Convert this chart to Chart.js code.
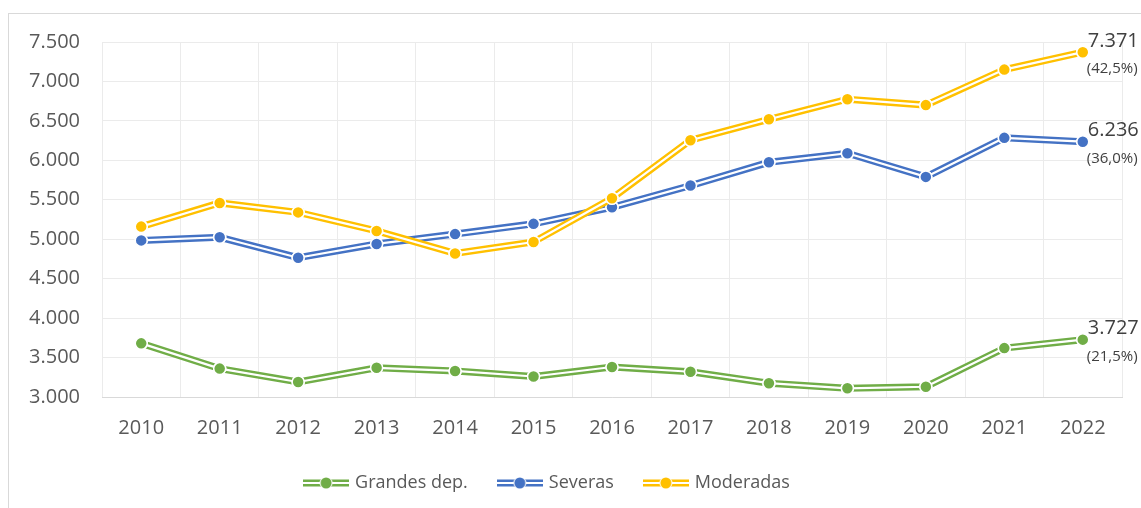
<!DOCTYPE html>
<html>
<head>
<meta charset="utf-8">
<script src="https://cdn.jsdelivr.net/npm/chart.js@4.4.0/dist/chart.umd.min.js"></script>
<style>
  html, body { margin: 0; padding: 0; background: #fff; overflow: hidden; }
  #wrap { position: relative; width: 1141px; height: 508px; }
</style>
</head>
<body>
<div id="wrap"><canvas id="chart" width="1141" height="508"></canvas></div>
<script>
const years = ['2010', '2011', '2012', '2013', '2014', '2015', '2016', '2017', '2018', '2019', '2020', '2021', '2022'];
const grandes = [3680, 3360, 3190, 3370, 3330, 3260, 3380, 3320, 3175, 3110, 3130, 3620, 3727];
const severas = [4985, 5025, 4765, 4940, 5065, 5195, 5405, 5680, 5975, 6090, 5790, 6285, 6236];
const moderadas = [5160, 5460, 5340, 5105, 4820, 4965, 5520, 6255, 6520, 6775, 6700, 7150, 7371];
const seriesNames = ['Grandes dep.', 'Severas', 'Moderadas'];
const shares = ['(21,5%)', '(36,0%)', '(42,5%)'];
const colors = ['#70AD47', '#4472C4', '#FFC000'];

const FONT = "'Open Sans', sans-serif";
const TEXT = '#595959';

function fmt(v) {
    return String(v).replace(/\B(?=(\d{3})+(?!\d))/g, '.');
}

// legend symbol: double line with a dot in the middle
function legendIcon(color) {
    const c = document.createElement('canvas');
    c.width = 46;
    c.height = 14;
    const g = c.getContext('2d');
    g.fillStyle = color;
    g.fillRect(0, 3.5, 46, 7);
    g.fillStyle = '#fff';
    g.fillRect(0, 6, 46, 2);
    g.beginPath();
    g.arc(23, 7, 6.5, 0, Math.PI * 2);
    g.fill();
    g.fillStyle = color;
    g.beginPath();
    g.arc(23, 7, 5.5, 0, Math.PI * 2);
    g.fill();
    return c;
}

const frame = {
    id: 'frame',
    beforeDraw(chart) {
        const ctx = chart.ctx;
        ctx.save();
        ctx.strokeStyle = '#d9d9d9';
        ctx.lineWidth = 1;
        ctx.strokeRect(8.5, 13.5, 2000, 2000);
        ctx.restore();
    }
};

// give the plot more room without moving the legend row
const LEGEND_SHRINK = 17;
const LEGEND_SHIFT_X = 13;
const legendSpace = {
    id: 'legendSpace',
    afterInit(chart) {
        const lg = chart.legend;
        const fit = lg.fit;
        lg.fit = function () {
            fit.call(this);
            this.height -= LEGEND_SHRINK;
        };
    },
    afterLayout(chart) {
        const lg = chart.legend;
        lg.top -= LEGEND_SHRINK;
        lg.left -= LEGEND_SHIFT_X;
        lg.right -= LEGEND_SHIFT_X;
    }
};

// white stripe in the middle of each line -> compound "double" line
const doubleLine = {
    id: 'doubleLine',
    afterDatasetDraw(chart, args) {
        const ctx = chart.ctx;
        const pts = args.meta.data;
        ctx.save();
        ctx.strokeStyle = '#fff';
        ctx.lineWidth = 2.2;
        ctx.lineJoin = 'round';
        ctx.beginPath();
        pts.forEach((p, i) => i ? ctx.lineTo(p.x, p.y) : ctx.moveTo(p.x, p.y));
        ctx.stroke();
        ctx.restore();
        pts.forEach(p => p.draw(ctx, chart.chartArea));
    }
};

const endLabels = {
    id: 'endLabels',
    afterDatasetsDraw(chart) {
        const ctx = chart.ctx;
        ctx.save();
        ctx.fillStyle = '#404040';
        ctx.textAlign = 'left';
        ctx.textBaseline = 'middle';
        chart.data.datasets.forEach((ds, i) => {
            const meta = chart.getDatasetMeta(i);
            const p = meta.data[meta.data.length - 1];
            ctx.font = '20px ' + FONT;
            ctx.fillText(fmt(ds.data[ds.data.length - 1]), p.x + 5, p.y - 11);
            ctx.font = '15px ' + FONT;
            ctx.fillText(shares[i], p.x + 4, p.y + 17);
        });
        ctx.restore();
    }
};

const datasets = [grandes, severas, moderadas].map((d, i) => ({
    label: seriesNames[i],
    data: d,
    borderColor: colors[i],
    backgroundColor: colors[i],
    borderWidth: 7,
    pointRadius: 6,
    pointHoverRadius: 6,
    pointBackgroundColor: colors[i],
    pointBorderColor: '#fff',
    pointBorderWidth: 1.5,
    tension: 0,
    order: 3 - i
}));

new Chart(document.getElementById('chart'), {
    type: 'line',
    data: { labels: years, datasets: datasets },
    options: {
        responsive: false,
        animation: false,
        layout: { padding: { left: 0, right: 19, top: 42, bottom: 6 } },
        plugins: {
            tooltip: { enabled: false },
            legend: {
                position: 'bottom',
                labels: {
                    usePointStyle: true,
                    pointStyleWidth: 40,
                    padding: 32,
                    color: TEXT,
                    font: { family: FONT, size: 18 },
                    generateLabels: () => seriesNames.map((n, i) => ({
                        text: n,
                        pointStyle: legendIcon(colors[i]),
                        fillStyle: colors[i],
                        strokeStyle: colors[i],
                        lineWidth: 0,
                        fontColor: TEXT,
                        datasetIndex: i,
                        hidden: false
                    }))
                }
            }
        },
        scales: {
            x: {
                offset: true,
                grid: { offset: true, color: '#ebebeb', drawTicks: false },
                border: { color: '#d9d9d9' },
                ticks: { color: TEXT, padding: 19, font: { family: FONT, size: 20 }, maxRotation: 0 }
            },
            y: {
                min: 3000,
                max: 7500,
                afterFit: s => { s.width = 102; },
                grid: { color: '#ebebeb', drawTicks: false },
                border: { display: false },
                ticks: {
                    stepSize: 500,
                    color: TEXT,
                    padding: 22,
                    font: { family: FONT, size: 20 },
                    callback: v => fmt(v)
                }
            }
        }
    },
    plugins: [frame, legendSpace, doubleLine, endLabels]
});
</script>
</body>
</html>
